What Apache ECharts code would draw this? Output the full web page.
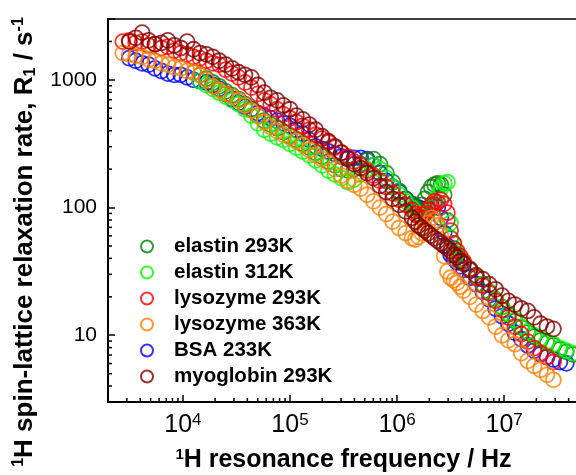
<!DOCTYPE html>
<html>
<head>
<meta charset="utf-8">
<script src="https://cdn.jsdelivr.net/npm/echarts@6/dist/echarts.min.js"></script>
<style>
  html, body { margin: 0; padding: 0; background: #fff; }
  #chart { width: 576px; height: 475px; }
</style>
</head>
<body>
<div id="chart"></div>
<script>
// frequencies (Hz) shared by all samples, null = no point at that frequency
const freqHz = [
  2750, 3160, 3630, 4170, 4790, 5500, 6310, 7240, 8320, 9550,
  10960, 12590, 14450, 16600, 19050, 21880, 25120, 28840, 33110, 38020,
  43650, 50120, 57540, 66070, 75860, 87100, 100000, 114800, 131800, 151400,
  173800, 199500, 229100, 263000, 302000, 346700, 398100, 457100, 524800, 602600,
  691800, 794300, 912000, 1047000, 1202000, 1380000,
  1479000, 1585000, 1698000, 1820000, 1950000, 2089000, 2239000, 2399000,
  2570000, 2754000, 2951000, 3162000, 3388000, 3631000, 3890000, 4169000,
  4786000, 5495000, 6310000, 7244000, 8318000, 9550000, 10960000, 12590000,
  14450000, 16600000, 19050000, 21880000, 25120000, 28840000, 33110000, 38020000, 43650000
];

const elastin293K = [
  null, null, null, null, null, null, null, null, null, null, null,
  1148, 1096, 1023, 955, 891, 813, 759, 708, 646,
  589, 525, 479, 447, 417, 389, 363, 339, 316, 295,
  269, 251, 229, 214, 200, 195, 200, 219, 234, 240,
  219, 186, 158, 135, 117, 105,
  100, 97.7, 105, 117, 132, 145, 151, 155, 151, 126, 79.4, 57.5, 47.9, 42.7, 39.8, 37.2,
  33.1, 28.8, 25.1, 21.9, 19.1, 16.6, 14.5, 12.9, 11.5, 10.5, 9.77, 9.12, 8.71, 8.32, 7.76, 7.41, 7.08
];

const elastin312K = [
  null, null, null, null, null, null, null, null, null, null, null, null,
  977, 912, 851, 794, 741, 692, 646, 589,
  525, 457, 407, 380, 355, 339, 316, 295, 275, 257,
  234, 214, 195, 182, 170, 158, 166, 182, 200, 214,
  200, 170, 145, 126, 112, 100,
  93.3, 89.1, 85.1, 89.1, 93.3, 100, 112, 126, 141, 155, 158, 75.9, 52.5, 43.7, 39.8, 37.2,
  33.1, 28.8, 25.1, 21.9, 19.1, 16.6, 14.8, 13.2, 11.7, 10.7, 10.0, 9.55, 8.91, 8.51, 7.94, 7.59, 7.24
];

const lysozyme293K = [
  1995, 2042, 1950, 1995, 1862, 1905, 1778, 1820, 1698, 1622,
  1585, 1514, 1479, 1413, 1349, 1318, 1202, 1122, 1047, 955,
  871, 776, 692, 646, 589, 537, 501, 468, 437, 407,
  372, 347, 324, 295, 269, 251, 229, 214, 195, 178,
  162, 145, 129, 115, 105, 95.5,
  89.1, 85.1, 83.2, 89.1, 95.5, 105, 112, 110, 115, 107, 91.2, 66.1, 52.5, 45.7, 41.7, 38.0,
  33.1, 28.2, 24.5, 21.4, 18.6, 15.8, 13.8, 11.7, 10.2, 8.91, 7.94, 7.24, 6.76, 6.17,
  null, null, null
];

const lysozyme363K = [
  1622, 1585, 1549, 1514, 1445, 1413, 1349, 1318, 1259, 1230,
  1175, 1148, 1096, 1000, 891, 832, 776, 741, 692, 631,
  575, 525, 468, 427, 398, 372, 355, 331, 309, 282,
  257, 240, 224, 200, 178, 162, 151, 141, 126, 112,
  100, 89.1, 77.6, 69.2, 63.1, 57.5,
  56.2, 58.9, 63.1, 69.2, 75.9, 83.2, 79.4, 72.4, 60.3, 41.7, 31.6, 28.2, 26.9, 25.7, 24.0, 22.4,
  20.0, 17.4, 15.5, 13.8, 11.7, 10.0, 9.12, 8.51, 7.24, 6.31, 5.75, 5.37, 4.90, 4.47,
  null, null, null
];

const bsa233K = [
  null,
  1479, 1413, 1349, 1318, 1230, 1175, 1122, 1096, 1096,
  1047, 1000, 977, 955, 912, 851, 776, 708, 661, 617,
  589, 550, 525, 501, 479, 457, 437, 407, 380, 339,
  302, 288, 275, 263, 251, 245, 245, 245, 240, 214,
  186, 162, 145, 132, 117, 107,
  102, 100, 97.7, 95.5, 97.7, 102, 105, 100, 83.2, 63.1, 50.1, 42.7, 39.8, 37.2, 34.7, 32.4,
  28.2, 25.1, 21.9, 19.1, 16.2, 14.1, 12.3, 10.5, 9.33, 8.32, 7.59, 7.08, 6.76, 6.46, 6.17, 6.03,
  null
];

const myoglobin293K = [
  null,
  1995, 2138, 2344, 2042, 1905, 1950, 2042, 1862, 1778,
  1995, 1738, 1622, 1585, 1514, 1413, 1318, 1230, 1148, 1096,
  1047, 912, 794, 724, 692, 631, 589, 525, 490, 447,
  407, 363, 331, 302, 269, 240, 219, 204, 186, 170,
  148, 132, 117, 105, 93.3, 83.2,
  77.6, 72.4, 69.2, 66.1, 63.1, 60.3, 57.5, 55.0, 52.5, 50.1, 47.9, 45.7, 42.7, 40.7, 38.0, 36.3,
  32.4, 29.5, 27.5, 25.1, 22.9, 20.4, 18.6, 17.4, 16.2, 15.5, 13.8, 12.3, 11.7, 11.2,
  null, null, null
];

const seriesNames = ['elastin 293K', 'elastin 312K', 'lysozyme 293K', 'lysozyme 363K', 'BSA 233K', 'myoglobin 293K'];
const seriesColors = ['#008000', '#00ff00', '#ff0000', '#ff8000', '#0000ff', '#800000'];
const seriesValues = [elastin293K, elastin312K, lysozyme293K, lysozyme363K, bsa233K, myoglobin293K];
// drawing order (myoglobin on top)
const drawOrder = [4, 0, 1, 2, 3, 5];

const xMin = 2000, xMax = 5e7, yMin = 3, yMax = 3000;
const xMinorTicks = [
  3000, 4000, 5000, 6000, 7000, 8000, 9000,
  20000, 30000, 40000, 50000, 60000, 70000, 80000, 90000,
  2e5, 3e5, 4e5, 5e5, 6e5, 7e5, 8e5, 9e5,
  2e6, 3e6, 4e6, 5e6, 6e6, 7e6, 8e6, 9e6,
  2e7, 3e7, 4e7
];
const yMinorTicks = [4, 5, 6, 7, 8, 9, 20, 30, 40, 50, 60, 70, 80, 90, 200, 300, 400, 500, 600, 700, 800, 900, 2000];

const FONT = 'Liberation Sans, Arial, Helvetica, sans-serif';

const isPow10 = (v) => {
  const e = Math.round(Math.log10(v));
  return Math.abs(v - Math.pow(10, e)) < 1e-6 * v;
};

const chart = echarts.init(document.getElementById('chart'));

const scatterSeries = drawOrder.map((k) => ({
  name: seriesNames[k],
  type: 'scatter',
  symbol: 'circle',
  symbolSize: 15,
  data: freqHz.map((f, i) => [f, seriesValues[k][i]]).filter((p) => p[1] != null),
  itemStyle: { color: 'rgba(0,0,0,0)', borderColor: seriesColors[k], borderWidth: 1.8 },
  emphasis: { disabled: true }
}));

// short inner minor ticks at 2..9 x 10^n, placed through the axes
function minorTickSeries(values, isX) {
  return {
    type: 'custom',
    silent: true,
    clip: false,
    z: 5,
    data: values.map((v) => (isX ? [v, yMin] : [xMin, v])),
    renderItem: (params, api) => {
      const p = api.coord([api.value(0), api.value(1)]);
      const shape = isX
        ? { x1: p[0], y1: p[1], x2: p[0], y2: p[1] - 4 }
        : { x1: p[0], y1: p[1], x2: p[0] + 4, y2: p[1] };
      return { type: 'line', shape: shape, style: { stroke: '#000', lineWidth: 1.5 } };
    }
  };
}

const option = {
  animation: false,
  backgroundColor: '#fff',
  grid: {
    left: 108, top: 19, right: -3, bottom: 73,
    show: true, borderColor: '#000', borderWidth: 1.5,
    containLabel: false, outerBoundsMode: 'none'
  },
  legend: {
    data: seriesNames,
    orient: 'vertical',
    left: 135,
    top: 231,
    itemWidth: 12,
    itemHeight: 12,
    itemGap: 5,
    icon: 'circle',
    selectedMode: false,
    textStyle: { fontFamily: FONT, fontSize: 20.5, fontWeight: 'bold', color: '#000', padding: [0, 0, 0, 16] }
  },
  xAxis: {
    type: 'log',
    logBase: 10,
    min: xMin,
    max: xMax,
    name: '{sup|1}H resonance frequency / Hz',
    nameLocation: 'middle',
    nameGap: 45,
    nameMoveOverlap: false,
    nameTextStyle: {
      fontFamily: FONT, fontSize: 25, fontWeight: 'bold', color: '#000', lineHeight: 27,
      rich: { sup: { fontFamily: FONT, fontSize: 15, fontWeight: 'bold', color: '#000', verticalAlign: 'top', lineHeight: 12 } }
    },
    axisLine: { lineStyle: { color: '#000', width: 2 } },
    axisTick: { inside: true, length: 7, lineStyle: { color: '#000', width: 1.5 } },
    splitLine: { show: false },
    axisLabel: {
      margin: 10,
      fontFamily: FONT, fontSize: 25, color: '#000', lineHeight: 26,
      formatter: (v) => (isPow10(v) ? '10{sup|' + Math.round(Math.log10(v)) + '}' : ''),
      rich: { sup: { fontFamily: FONT, fontSize: 17, color: '#000', verticalAlign: 'top', lineHeight: 12 } }
    }
  },
  yAxis: {
    type: 'log',
    logBase: 10,
    min: yMin,
    max: yMax,
    axisLine: { lineStyle: { color: '#000', width: 2 } },
    axisTick: { inside: true, length: 7, lineStyle: { color: '#000', width: 1.5 } },
    splitLine: { show: false },
    axisLabel: {
      margin: 11,
      fontFamily: FONT, fontSize: 21, color: '#000',
      formatter: (v) => (isPow10(v) ? String(Math.round(v)) : '')
    }
  },
  graphic: [{
    type: 'text',
    x: 25,
    y: 242,
    rotation: Math.PI / 2,
    style: {
      text: '{sup|1}{b|H spin-lattice relaxation rate, R}{sub|1}{b| / s}{sup|-1}',
      fontFamily: FONT, fontSize: 26, fontWeight: 'bold', fill: '#000',
      align: 'center', verticalAlign: 'middle',
      rich: {
        b: { fontFamily: FONT, fontSize: 26, fontWeight: 'bold', fill: '#000', lineHeight: 28 },
        sup: { fontFamily: FONT, fontSize: 16, fontWeight: 'bold', fill: '#000', verticalAlign: 'top', lineHeight: 13 },
        sub: { fontFamily: FONT, fontSize: 16, fontWeight: 'bold', fill: '#000', verticalAlign: 'bottom', lineHeight: 13 }
      }
    }
  }],
  series: scatterSeries.concat([minorTickSeries(xMinorTicks, true), minorTickSeries(yMinorTicks, false)])
};

chart.setOption(option);
</script>
</body>
</html>
